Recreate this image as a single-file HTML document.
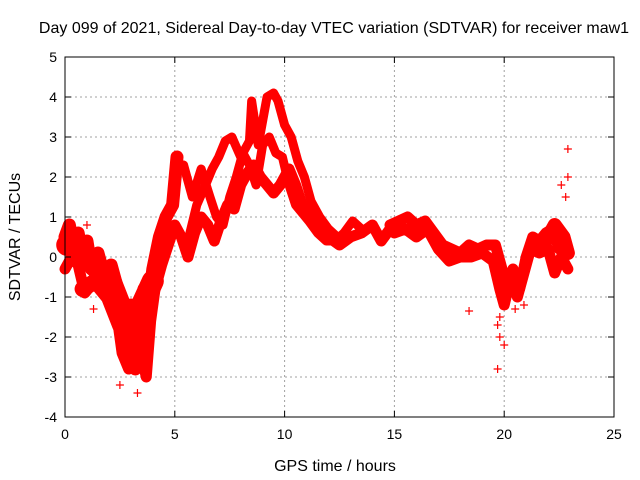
<!DOCTYPE html>
<html><head><meta charset="utf-8"><style>
body{margin:0;background:#fff;}
svg{display:block;font-family:"Liberation Sans",sans-serif;}
</style></head><body>
<svg id="chart" width="640" height="480">
<text x="334" y="33" text-anchor="middle" font-size="16">Day 099 of 2021, Sidereal Day-to-day VTEC variation (SDTVAR) for receiver maw1</text>
<text x="335" y="471" text-anchor="middle" font-size="16">GPS time / hours</text>
<text transform="translate(20,237) rotate(-90)" text-anchor="middle" font-size="16">SDTVAR / TECUs</text>
<g id="grid"></g>
<g id="marks"></g>
<rect x="65" y="57" width="549" height="360" fill="none" stroke="#000" stroke-width="1"/>
<g id="ticks"></g>
</svg>
<script>
const xTicks=[0,5,10,15,20,25];
const yTicks=[-4,-3,-2,-1,0,1,2,3,4,5];
const trace1T=[0,0.2,0.4,0.6,0.8,1.0,1.2,1.5,1.8,2.1,2.4,2.6,2.8,3.0,3.2,3.4,3.6,3.8,4.0,4.3,4.6,4.9,5.1];
const trace1V=[0.5,0.8,0.2,0.6,0.0,0.4,-0.3,0.1,-0.5,-0.2,-0.8,-1.5,-2.5,-1.2,-2.8,-1.8,-0.8,-1.2,-0.3,0.5,1.0,1.3,2.5];
const trace2T=[0,0.3,0.6,0.9,1.2,1.5,1.8,2.1,2.4,2.6,2.9,3.1,3.3,3.5,3.7,3.9,4.1,4.4,4.7,5.0,5.3,5.6,5.9,6.2,6.5,6.8,7.1,7.4,7.7,8.0,8.3,8.6,8.9,9.2,9.5,9.8,10.2,10.5,10.8,11.2,11.6,12.0,12.5,13.0,13.5,14.0,14.4,14.8];
const trace2V=[-0.3,0.0,-0.2,-0.9,-0.7,-0.6,-0.4,-0.9,-1.6,-2.4,-2.8,-2.0,-1.2,-2.5,-3.0,-1.6,-0.8,-0.2,0.3,0.8,0.5,0.0,0.6,1.0,0.8,0.4,0.9,1.3,1.2,1.8,2.1,2.3,2.0,1.8,1.6,1.8,2.2,1.8,1.3,1.0,0.7,0.5,0.3,0.5,0.6,0.8,0.4,0.7];
const trace3T=[5.1,5.4,5.8,6.2,6.6,6.9,7.2,7.5,7.8,8.1,8.4,8.7,9.0,9.3,9.6,9.9,10.2,10.5,10.8,11.1,11.5,11.9,12.3,12.7,13.1,13.5];
const trace3V=[2.2,2.3,1.5,2.2,1.5,1.0,0.8,1.5,2.0,2.6,2.3,1.8,2.8,3.0,2.6,2.5,1.8,1.3,1.1,0.9,0.6,0.4,0.4,0.6,0.9,0.7];
const trace4T=[5.6,6.0,6.4,6.7,7.0,7.3,7.6,8.0,8.4,8.5,8.8,9.2,9.5,9.7,10.0,10.3,10.6,10.9,11.2,11.6,12.0,12.4];
const trace4V=[0.4,1.3,1.8,2.2,2.5,2.9,3.0,2.5,2.9,3.9,2.8,4.0,4.1,3.9,3.3,3.0,2.4,2.0,1.4,1.0,0.7,0.5];
const trace5T=[14.8,15.2,15.6,16.0,16.4,16.8,17.2,17.6,18.0,18.4,18.8,19.2,19.6,19.9,20.1,20.4,20.7,21.0,21.3,21.6,21.9,22.2,22.5,22.8];
const trace5V=[0.8,0.9,1.0,0.8,0.9,0.6,0.3,0.2,0.1,0.3,0.2,0.3,0.3,-0.3,-0.7,-0.3,-0.8,0.0,0.5,0.4,0.6,0.7,0.2,0.3];
const trace6T=[15,15.5,16,16.5,17,17.5,18,18.5,19,19.5,19.8,20.0,20.3,20.6,20.9,21.2,21.6,22.0,22.3,22.6,22.9];
const trace6V=[0.6,0.7,0.5,0.7,0.2,-0.1,0.0,0.0,0.1,-0.1,-0.8,-1.2,-0.5,-1.0,-0.4,0.2,0.1,0.2,-0.4,0.0,-0.3];
const trace7T=[0.1,0.5,1.0,1.5,2.0,2.5,3.0,3.5,4.0];
const trace7V=[0.3,0.3,0.0,-0.3,-0.5,-1.2,-1.5,-1.2,-0.6];
const trace8T=[0.8,1.4,2.0,2.5,2.8,3.1,3.4,3.8];
const trace8V=[-0.8,-0.6,-1.0,-1.7,-2.0,-1.8,-2.2,-1.5];
const trace9T=[21.5,21.9,22.3,22.7,22.9];
const trace9V=[0.3,0.4,0.8,0.5,0.1];
const outlierT=[18.4,19.7,19.8,20.0,19.7,20.5,20.9,22.9,22.9,22.6,22.8,3.3,2.5,19.8,1.0,1.3];
const outlierV=[-1.35,-2.8,-2.0,-2.2,-1.7,-1.3,-1.2,2.7,2.0,1.8,1.5,-3.4,-3.2,-1.5,0.8,-1.3];

const NS='http://www.w3.org/2000/svg';
const X0=65,X1=614,Y0=417,Y1=57;
function sx(t){return X0+(t-0)/(25-0)*(X1-X0);}
function sy(v){return Y0-(v-(-4))/(5-(-4))*(Y0-Y1);}
function mk(tag,attrs,parent){const e=document.createElementNS(NS,tag);for(const k in attrs)e.setAttribute(k,attrs[k]);parent.appendChild(e);return e;}
const grid=document.getElementById('grid'),ticks=document.getElementById('ticks'),marks=document.getElementById('marks');
xTicks.forEach(t=>{
  const x=sx(t);
  if(t>0&&t<25){const l=mk('line',{x1:x,x2:x,y1:Y0,y2:Y1,stroke:'#a0a0a0','stroke-dasharray':'2,3'},grid);
  
  }
  mk('line',{x1:x,x2:x,y1:Y0,y2:Y0-6,stroke:'#000'},ticks);
  mk('line',{x1:x,x2:x,y1:Y1,y2:Y1+6,stroke:'#000'},ticks);
  const tx=mk('text',{x:x,y:Y0+22,'text-anchor':'middle','font-size':'14'},ticks);
  tx.textContent=t;
  
  
});
yTicks.forEach(v=>{
  const y=sy(v);
  if(v>-4&&v<5){const l=mk('line',{x1:X0,x2:X1,y1:y,y2:y,stroke:'#a0a0a0','stroke-dasharray':'2,3'},grid);
  
  }
  mk('line',{x1:X0,x2:X0+6,y1:y,y2:y,stroke:'#000'},ticks);
  mk('line',{x1:X1,x2:X1-6,y1:y,y2:y,stroke:'#000'},ticks);
  const tx=mk('text',{x:X0-8,y:y+5,'text-anchor':'end','font-size':'14'},ticks);
  tx.textContent=v;
  
  
});
function plus(t,v){
  const x=sx(t),y=sy(v);
  const p=mk('path',{d:`M${x-4},${y}H${x+4}M${x},${y-4}V${y+4}`,stroke:'#f00','stroke-width':'1.2'},marks);
  
  
}
function trace(T,V,w){
  const pts=T.map((t,i)=>sx(t)+','+sy(V[i])).join(' ');
  const pl=mk('polyline',{points:pts,fill:'none',stroke:'#f00','stroke-width':w,'stroke-linejoin':'round','stroke-linecap':'round'},marks);
  
  
  T.forEach((t,i)=>plus(t,V[i]));
}
trace(trace7T,trace7V,22);
trace(trace8T,trace8V,16);
trace(trace1T,trace1V,13);
trace(trace2T,trace2V,11);
trace(trace3T,trace3V,9);
trace(trace4T,trace4V,9);
trace(trace5T,trace5V,11);
trace(trace6T,trace6V,11);
trace(trace9T,trace9V,14);
outlierT.forEach((t,i)=>plus(t,outlierV[i]));
</script>
</body></html>
